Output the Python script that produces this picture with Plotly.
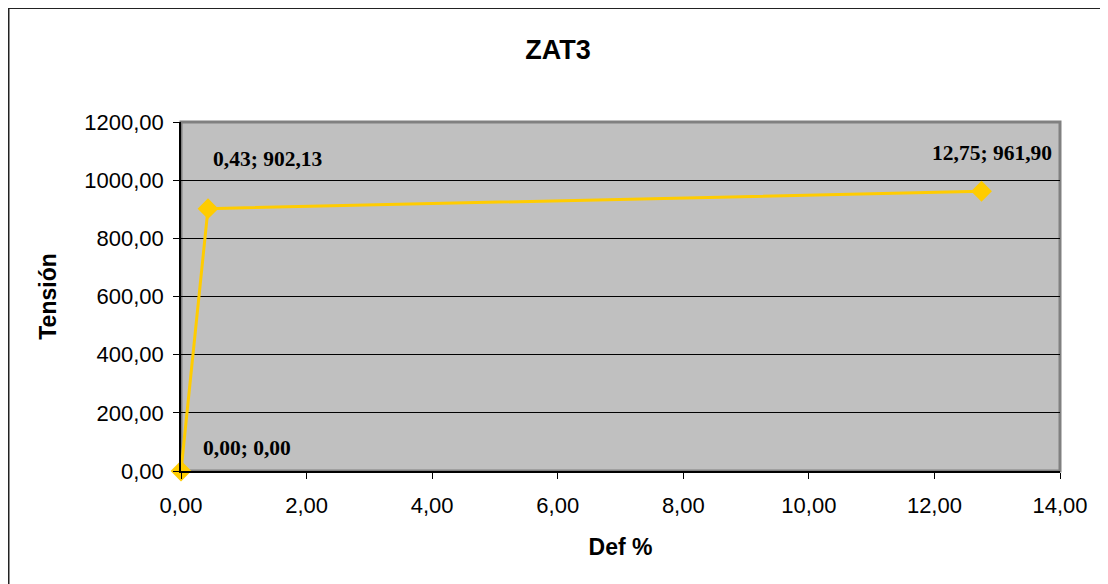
import plotly.graph_objects as go

def_pct = [0.00, 0.43, 12.75]
tension = [0.00, 902.13, 961.90]
label_offsets = [(66, -23), (60, -50), (10, -38)]

# page is offset by 8px (body margin), so figure = visible area
W, H = 1100, 576
L, R, T, B = 173, 48, 114, 113
pw, ph = W - L - R, H - T - B

def px_x(p):
    return (p - L) / pw

def px_y(p):
    return (H - B - p) / ph

def fmt(v):
    return f"{v:.2f}".replace(".", ",")

fig = go.Figure()
fig.add_trace(go.Scatter(
    x=def_pct, y=tension, mode="lines+markers",
    line=dict(color="#FFCC00", width=3),
    marker=dict(symbol="diamond", size=16, color="#FFCC00"),
    cliponaxis=False, showlegend=False,
))

annotations = []
for xv, yv, (ax, ay) in zip(def_pct, tension, label_offsets):
    annotations.append(dict(
        x=xv, y=yv, xref="x", yref="y",
        text=f"<b>{fmt(xv)}; {fmt(yv)}</b>",
        showarrow=True, arrowcolor="rgba(0,0,0,0)", ax=ax, ay=ay,
        font=dict(family="Liberation Serif", size=21.5, color="black"),
    ))

fig.update_layout(
    width=W, height=H,
    margin=dict(l=L, r=R, t=T, b=B),
    paper_bgcolor="white", plot_bgcolor="#C0C0C0",
    separators=",.",
    title=dict(text="<b>ZAT3</b>", x=0.5, xref="container", y=1 - 42 / H, yref="container",
               xanchor="center", yanchor="middle",
               font=dict(family="Arial", size=27, color="black")),
    xaxis=dict(range=[0, 14], dtick=2, tickformat=".2f", showgrid=False, zeroline=False,
               showline=True, linecolor="black", linewidth=1.5,
               ticks="outside", ticklen=6, tickcolor="black", ticklabelstandoff=8,
               tickfont=dict(family="Arial", size=22, color="black"),
               title=dict(text="<b>Def %</b>", font=dict(family="Arial", size=23, color="black"),
                          standoff=22)),
    yaxis=dict(range=[0, 1200], dtick=200, tickformat=".2f", showgrid=True,
               gridcolor="black", gridwidth=1, zeroline=False,
               showline=True, linecolor="black", linewidth=1.5,
               ticks="outside", ticklen=6, tickcolor="black", ticklabelstandoff=5,
               tickfont=dict(family="Arial", size=22, color="black"),
               title=dict(text="<b>Tensión</b>", font=dict(family="Arial", size=23, color="black"),
                          standoff=21)),
    annotations=annotations,
    shapes=[
        dict(type="rect", xref="paper", yref="paper", x0=0, x1=1, y0=0, y1=1,
             line=dict(color="#808080", width=3), layer="below"),
        dict(type="rect", xref="paper", yref="paper",
             x0=px_x(0.5), x1=px_x(W + 10), y0=px_y(H + 10), y1=px_y(0),
             line=dict(color="#222222", width=2), layer="below"),
    ],
)

fig.write_html("out.html")
